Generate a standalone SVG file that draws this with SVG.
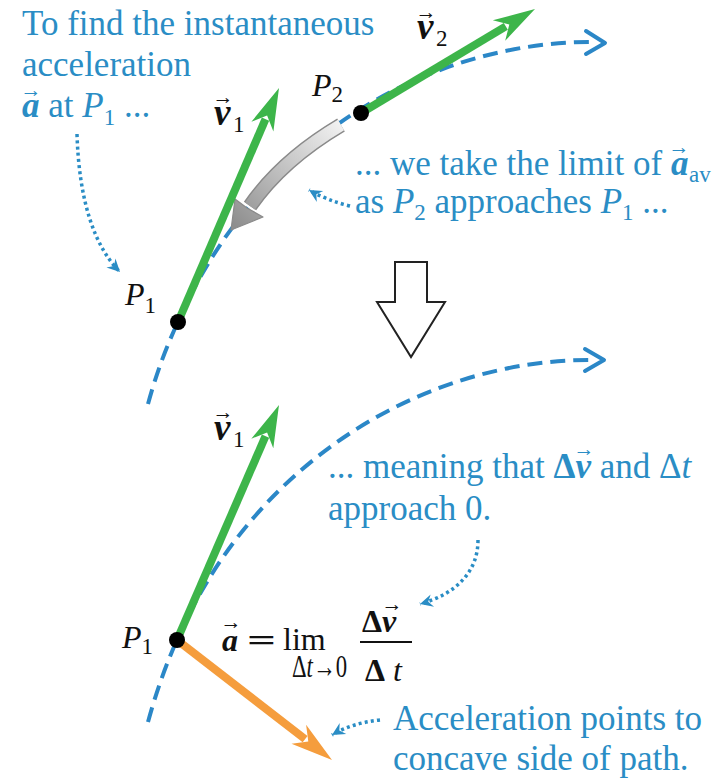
<svg xmlns="http://www.w3.org/2000/svg" width="719" height="780" viewBox="0 0 719 780">
<style>
text{font-family:"Liberation Serif","DejaVu Serif",serif;}
.note{fill:#2a8dc5;font-size:35px;}
.lbl{fill:#111;font-size:32px;}
.it{font-style:italic;}
.bi{font-style:italic;font-weight:bold;}
.vl{font-size:37px;}
.sub{font-size:23px;font-style:normal;font-weight:normal;}
.vec{font-size:21px;font-style:normal;font-weight:normal;text-anchor:middle;}
.path{fill:none;stroke:#2b87c7;stroke-width:4;stroke-dasharray:15 8;}
.chev{fill:none;stroke:#2b87c7;stroke-width:4;stroke-linecap:round;stroke-linejoin:round;}
.dot{fill:none;stroke:#2a8dc5;stroke-width:3.5;stroke-dasharray:3 3.2;}
.green{stroke:#3db54a;stroke-width:8;fill:none;}
.greenh{fill:#3db54a;}
.orange{stroke:#f59d3d;stroke-width:8;fill:none;}
.orangeh{fill:#f59d3d;}
</style>
<defs>
<marker id="dm" markerUnits="userSpaceOnUse" markerWidth="16" markerHeight="16" refX="0" refY="0" viewBox="-13 -7 15 14" orient="auto">
<path d="M0,0 L-12,-6 L-8,0 L-12,6 Z" fill="#2a8dc5"/>
</marker>
<linearGradient id="gg" gradientUnits="userSpaceOnUse" x1="340" y1="122" x2="236" y2="226">
<stop offset="0" stop-color="#f2f2f2"/>
<stop offset="0.6" stop-color="#b8b8b8"/>
<stop offset="1" stop-color="#8e8e8e"/>
</linearGradient>
</defs>

<g id="connectors">
<path class="path" d="M148,404 Q160,360 178,322 C258,138 431,42 591,42"/>
<polyline class="chev" points="586,31 605,43 586,54"/>
<path class="path" d="M148,722 Q160,678 177,640 C257,456 430,360 590,360"/>
<polyline class="chev" points="585,349 604,360 585,371"/>
<path d="M341,125 Q282,160 250,206" fill="none" stroke="#8a8a8a" stroke-width="15"/>
<path d="M341,125 Q282,160 250,206" fill="none" stroke="url(#gg)" stroke-width="12"/>
<polygon points="231,230 235,199 247,208 263,217" fill="url(#gg)" stroke="#8a8a8a" stroke-width="1.2" stroke-linejoin="round"/>
<line class="green" x1="178" y1="322" x2="265.5" y2="119.2"/>
<polygon class="greenh" points="279,88 273.4,131.4 267.1,115.5 251.4,121.8"/>
<line class="green" x1="361" y1="113" x2="505.8" y2="26.4"/>
<polygon class="greenh" points="535,9 505.2,40.8 509.3,24.4 492.8,20.2"/>
<line class="green" x1="177" y1="640" x2="265.5" y2="436.2"/>
<polygon class="greenh" points="279,405 273.3,448.3 267.1,432.5 251.3,438.7"/>
<line class="orange" x1="177" y1="640" x2="305.1" y2="739.2"/>
<polygon class="orangeh" points="332,760 291.5,743.8 308.3,741.6 306.1,724.8"/>
<path class="dot" d="M77,134 C79,200 94,246 120,272" marker-end="url(#dm)"/>
<path class="dot" d="M350,206 Q326,200 309,190" marker-end="url(#dm)"/>
<path class="dot" d="M478,540 C478,572 456,594 420,604" marker-end="url(#dm)"/>
<path class="dot" d="M380,720 Q352,723 332,735" marker-end="url(#dm)"/>
<polygon points="395,262 427,262 427,302 445,302 411,357 377,302 395,302" fill="#fff" stroke="#222" stroke-width="2" stroke-linejoin="miter"/>
</g>

<g id="P1-top">
<circle cx="178" cy="322" r="8" fill="#000"/>
<text class="lbl" x="125" y="305"><tspan class="it">P</tspan><tspan class="sub" dy="8">1</tspan></text>
</g>
<g id="P2">
<circle cx="361" cy="113" r="8" fill="#000"/>
<text class="lbl" x="312" y="96"><tspan class="it">P</tspan><tspan class="sub" dy="6">2</tspan></text>
</g>
<g id="v1-top">
<text class="lbl"><tspan class="bi vl" x="214" y="125">v</tspan><tspan class="vec" x="223" y="104">→</tspan><tspan class="sub" x="233" y="132">1</tspan></text>
</g>
<g id="v2">
<text class="lbl"><tspan class="bi vl" x="417" y="39">v</tspan><tspan class="vec" x="426" y="19">→</tspan><tspan class="sub" x="436" y="46">2</tspan></text>
</g>
<g id="P1-bottom">
<circle cx="177" cy="640" r="8" fill="#000"/>
<text class="lbl" x="122" y="648"><tspan class="it">P</tspan><tspan class="sub" dy="6">1</tspan></text>
</g>
<g id="v1-bottom">
<text class="lbl"><tspan class="bi vl" x="214" y="440">v</tspan><tspan class="vec" x="223" y="419">→</tspan><tspan class="sub" x="233" y="447">1</tspan></text>
</g>

<g id="note-find">
<text class="note" x="22" y="35">To find the instantaneous</text>
<text class="note" x="22" y="76">acceleration</text>
<text class="note"><tspan class="bi" x="22" y="117">a</tspan><tspan class="vec" x="31" y="97">→</tspan><tspan x="39.5" y="117"> at </tspan><tspan class="it">P</tspan><tspan class="sub" font-size="24" dy="8">1</tspan><tspan dy="-8"> ...</tspan></text>
</g>
<g id="note-limit">
<text class="note"><tspan x="355" y="175">... we take the limit of </tspan><tspan class="bi">a</tspan><tspan class="vec" x="679" y="154">→</tspan><tspan class="sub" font-size="24" x="689" y="182">av</tspan></text>
<text class="note" x="355" y="213">as <tspan class="it">P</tspan><tspan class="sub" font-size="24" dy="7">2</tspan><tspan dy="-7"> approaches </tspan><tspan class="it">P</tspan><tspan class="sub" font-size="24" dy="7">1</tspan><tspan dy="-7"> ...</tspan></text>
</g>
<g id="note-meaning">
<text class="note"><tspan x="328" y="478">... meaning that </tspan><tspan font-weight="bold">Δ</tspan><tspan class="bi">v</tspan><tspan class="vec" x="584" y="456">→</tspan><tspan x="591" y="478"> and Δ</tspan><tspan class="it">t</tspan></text>
<text class="note" x="328" y="520">approach 0.</text>
</g>
<g id="formula">
<text class="lbl" font-size="35"><tspan class="bi" x="222" y="651">a</tspan><tspan class="vec" x="231" y="629">→</tspan></text>
<text class="lbl" font-size="35" font-weight="bold" x="247" y="651" textLength="29" lengthAdjust="spacingAndGlyphs">=</text>
<text class="lbl" font-size="35" x="283" y="650">lim</text>
<text class="lbl" font-size="17" x="292" y="677" textLength="55" lengthAdjust="spacingAndGlyphs">Δ<tspan class="it">t</tspan>→0</text>
<text class="lbl" font-size="36"><tspan font-weight="bold" x="362" y="632">Δ</tspan><tspan class="bi">v</tspan><tspan class="vec" x="392" y="611">→</tspan></text>
<line x1="360" y1="642" x2="412" y2="642" stroke="#111" stroke-width="2"/>
<text class="lbl" font-size="36" x="365" y="681"><tspan font-weight="bold">Δ</tspan> <tspan class="it">t</tspan></text>
</g>
<g id="note-accel">
<text class="note" x="393" y="730">Acceleration points to</text>
<text class="note" x="393" y="770">concave side of path.</text>
</g>
</svg>
